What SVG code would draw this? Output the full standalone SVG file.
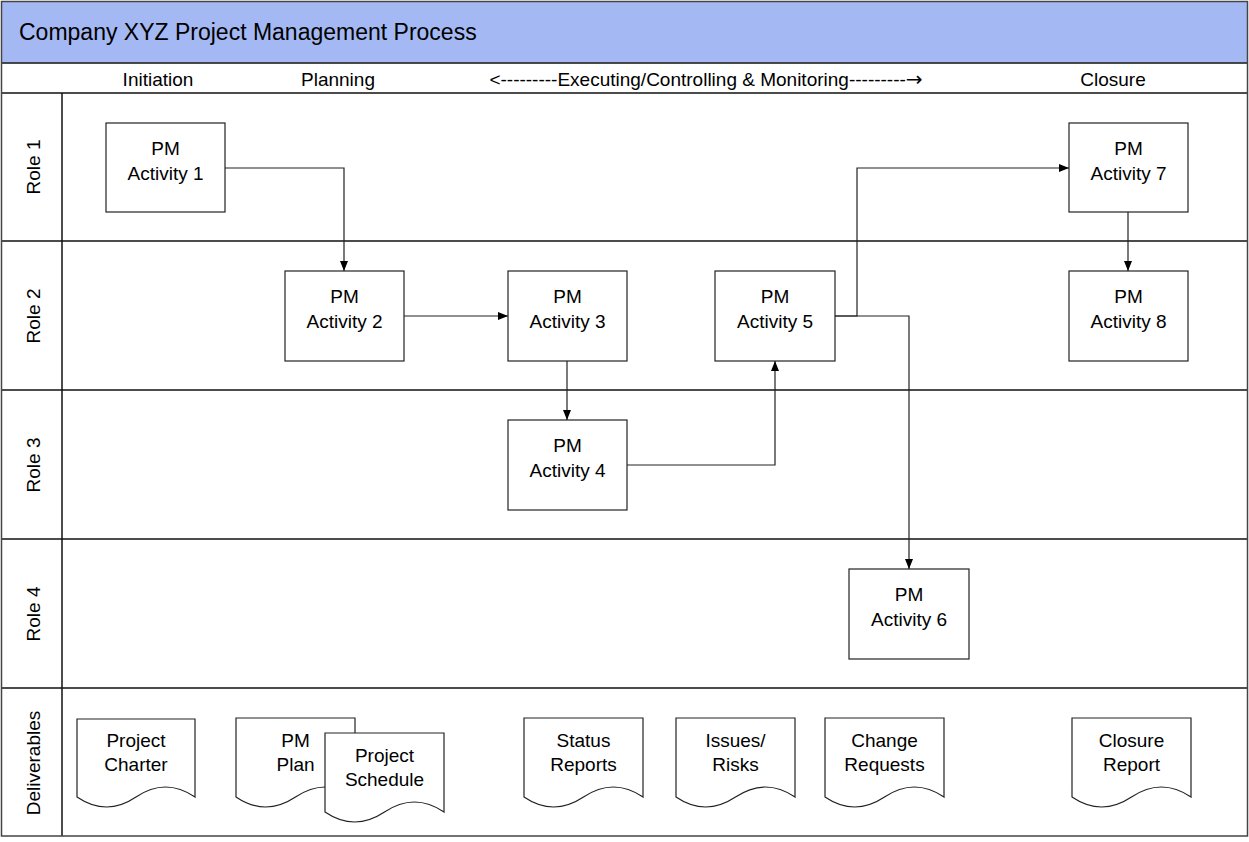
<svg xmlns="http://www.w3.org/2000/svg" width="1249" height="842" viewBox="0 0 1249 842">
  <defs>
    <style>
      text { font-family: "Liberation Sans", Arial, sans-serif; fill: #000; }
      .t { font-size: 19px; text-anchor: middle; }
      .title { font-size: 23px; }
      .arrowglyph { font-family: "DejaVu Sans", sans-serif; font-size: 20px; }
      .lane { stroke: #111; stroke-width: 1.5; fill: none; }
      .box { fill: #fff; stroke: #222; stroke-width: 1.2; }
      .doc { fill: #fff; stroke: #222; stroke-width: 1.2; }
      .conn { fill: none; stroke: #222; stroke-width: 1.2; }
    </style>
    <marker id="arr" markerUnits="userSpaceOnUse" markerWidth="10" markerHeight="10" refX="10" refY="5" orient="auto">
      <path d="M0,1 L10,5 L0,9 z" fill="#000"/>
    </marker>
  </defs>
  <rect x="0" y="0" width="1249" height="842" fill="#fff"/>

  <g id="frame">
    <rect x="1.5" y="1.5" width="1246" height="61" fill="#A4B9F3" stroke="none"/>
    <text class="title" x="19" y="40">Company XYZ Project Management Process</text>
    <line class="lane" x1="1" y1="63" x2="1248" y2="63"/>
    <line class="lane" x1="1" y1="93" x2="1248" y2="93"/>
    <line class="lane" x1="1" y1="241" x2="1248" y2="241"/>
    <line class="lane" x1="1" y1="390" x2="1248" y2="390"/>
    <line class="lane" x1="1" y1="539" x2="1248" y2="539"/>
    <line class="lane" x1="1" y1="688" x2="1248" y2="688"/>
    <line class="lane" x1="62" y1="93" x2="62" y2="836"/>
    <rect x="1.5" y="1.5" width="1246" height="834.5" fill="none" stroke="#444" stroke-width="1.5"/>
  </g>

  <g id="phases">
    <text class="t" x="158" y="86">Initiation</text>
    <text class="t" x="338" y="86">Planning</text>
    <text class="t" x="706" y="86">&lt;---------Executing/Controlling &amp; Monitoring---------<tspan class="arrowglyph">→</tspan></text>
    <text class="t" x="1113" y="86">Closure</text>
  </g>

  <g id="roles">
    <text class="t" transform="translate(40,167) rotate(-90)">Role 1</text>
    <text class="t" transform="translate(40,316) rotate(-90)">Role 2</text>
    <text class="t" transform="translate(40,465) rotate(-90)">Role 3</text>
    <text class="t" transform="translate(40,614) rotate(-90)">Role 4</text>
    <text class="t" transform="translate(40,763) rotate(-90)">Deliverables</text>
  </g>

  <g id="connectors">
    <path class="conn" d="M225,168 H344 V271" marker-end="url(#arr)"/>
    <path class="conn" d="M404,316 H508" marker-end="url(#arr)"/>
    <path class="conn" d="M567,361 V420" marker-end="url(#arr)"/>
    <path class="conn" d="M627,465 H775 V361" marker-end="url(#arr)"/>
    <path class="conn" d="M835,316 H857 V168 H1069" marker-end="url(#arr)"/>
    <path class="conn" d="M835,316 H909 V569" marker-end="url(#arr)"/>
    <path class="conn" d="M1128,212 V271" marker-end="url(#arr)"/>
  </g>

  <g id="act1"><rect class="box" x="106" y="123" width="119" height="89"/><text class="t" x="165.5" y="155">PM</text><text class="t" x="165.5" y="180">Activity 1</text></g>
  <g id="act2"><rect class="box" x="285" y="271" width="119" height="90"/><text class="t" x="344.5" y="303">PM</text><text class="t" x="344.5" y="328">Activity 2</text></g>
  <g id="act3"><rect class="box" x="508" y="271" width="119" height="90"/><text class="t" x="567.5" y="303">PM</text><text class="t" x="567.5" y="328">Activity 3</text></g>
  <g id="act4"><rect class="box" x="508" y="420" width="119" height="90"/><text class="t" x="567.5" y="452">PM</text><text class="t" x="567.5" y="477">Activity 4</text></g>
  <g id="act5"><rect class="box" x="715" y="271" width="120" height="90"/><text class="t" x="775" y="303">PM</text><text class="t" x="775" y="328">Activity 5</text></g>
  <g id="act6"><rect class="box" x="849" y="569" width="120" height="90"/><text class="t" x="909" y="601">PM</text><text class="t" x="909" y="626">Activity 6</text></g>
  <g id="act7"><rect class="box" x="1069" y="123" width="119" height="89"/><text class="t" x="1128.5" y="155">PM</text><text class="t" x="1128.5" y="180">Activity 7</text></g>
  <g id="act8"><rect class="box" x="1069" y="271" width="119" height="90"/><text class="t" x="1128.5" y="303">PM</text><text class="t" x="1128.5" y="328">Activity 8</text></g>

  <g id="doc-charter">
    <path class="doc" d="M77,719 H195 V797 Q165.5,777 136,797 T77,797 Z"/>
    <text class="t" x="136" y="747">Project</text><text class="t" x="136" y="771">Charter</text>
  </g>
  <g id="doc-pmplan">
    <path class="doc" d="M236,718 H355 V797 Q325.5,777 295.5,797 T236,797 Z"/>
    <text class="t" x="295.5" y="747">PM</text><text class="t" x="295.5" y="771">Plan</text>
  </g>
  <g id="doc-schedule">
    <path class="doc" d="M325,733 H444 V812 Q414.5,792 384.5,812 T325,812 Z"/>
    <text class="t" x="384.5" y="762">Project</text><text class="t" x="384.5" y="786">Schedule</text>
  </g>
  <g id="doc-status">
    <path class="doc" d="M524,718 H643 V797 Q613.5,777 583.5,797 T524,797 Z"/>
    <text class="t" x="583.5" y="747">Status</text><text class="t" x="583.5" y="771">Reports</text>
  </g>
  <g id="doc-issues">
    <path class="doc" d="M676,718 H795 V797 Q765.5,777 735.5,797 T676,797 Z"/>
    <text class="t" x="735.5" y="747">Issues/</text><text class="t" x="735.5" y="771">Risks</text>
  </g>
  <g id="doc-change">
    <path class="doc" d="M825,718 H944 V797 Q914.5,777 884.5,797 T825,797 Z"/>
    <text class="t" x="884.5" y="747">Change</text><text class="t" x="884.5" y="771">Requests</text>
  </g>
  <g id="doc-closure">
    <path class="doc" d="M1072,718 H1191 V797 Q1161.5,777 1131.5,797 T1072,797 Z"/>
    <text class="t" x="1131.5" y="747">Closure</text><text class="t" x="1131.5" y="771">Report</text>
  </g>
</svg>
